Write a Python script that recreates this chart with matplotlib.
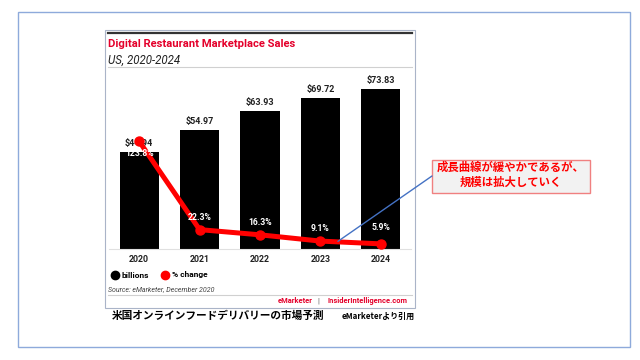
import matplotlib
matplotlib.use("Agg")
import matplotlib.pyplot as plt
from matplotlib.patches import Rectangle, ConnectionPatch
from matplotlib.lines import Line2D

years = ["2020", "2021", "2022", "2023", "2024"]
sales = [44.94, 54.97, 63.93, 69.72, 73.83]
sales_labels = ["$44.94", "$54.97", "$63.93", "$69.72", "$73.83"]
pct = [123.8, 22.3, 16.3, 9.1, 5.9]
pct_labels = ["123.8%", "22.3%", "16.3%", "9.1%", "5.9%"]

title = "Digital Restaurant Marketplace Sales"
subtitle = "US, 2020-2024"
source = "Source: eMarketer, December 2020"
caption = "米国オンラインフードデリバリーの市場予測"
credit = "eMarketerより引用"
note = "成長曲線が緩やかであるが、\n規模は拡大していく"

W, H = 640, 360
fig = plt.figure(figsize=(6.4, 3.6), dpi=100)
fig.patch.set_facecolor("white")

def fx(x):
    return x / W

def fy(y):
    return 1 - y / H

def hline(x0, x1, y, color, lw):
    fig.add_artist(Line2D([fx(x0), fx(x1)], [fy(y), fy(y)], transform=fig.transFigure,
                          color=color, lw=lw))

def rect(x0, y0, x1, y1, ec, lw, fc="none", z=1):
    fig.add_artist(Rectangle((fx(x0), fy(y1)), fx(x1) - fx(x0), fy(y0) - fy(y1),
                             transform=fig.transFigure, ec=ec, fc=fc, lw=lw, zorder=z))

RED = "#e4002b"
FONT = "Roboto"
JP = ["Noto Sans CJK JP", "DejaVu Sans"]

# outer frame and chart box
rect(18, 12, 630, 347, "#8eaadb", 1.0)
rect(105, 30, 415, 308, "#aab4c8", 0.8)
hline(108, 412, 33, "#333333", 1.6)
hline(108, 412, 67, "#d0d0d0", 0.8)
hline(108, 412, 295, "#d0d0d0", 0.8)

fig.text(fx(108), fy(44), title, color=RED, fontsize=8.1, fontweight="bold",
         family=FONT, va="center", ha="left")
fig.text(fx(108), fy(60), subtitle, color="#222222", fontsize=8.3, style="italic",
         family=FONT, va="center", ha="left")

# axes
ax = fig.add_axes([fx(109), 111 / H, (411 - 109) / W, 173 / H])
ax.set_xlim(-0.5, 4.5)
ax.set_ylim(0, 80)
x = list(range(len(years)))
ax.bar(x, sales, width=0.65, color="black", zorder=2)
for xi, v, lab in zip(x, sales, sales_labels):
    ax.annotate(lab, (xi, v), xytext=(0, 3), textcoords="offset points",
                ha="center", va="bottom", fontsize=6.5, fontweight="bold",
                family=FONT, color="#222222", zorder=5)
for s in ["top", "left", "right"]:
    ax.spines[s].set_visible(False)
ax.spines["bottom"].set_color("#e0e0e0")
ax.spines["bottom"].set_linewidth(0.8)
ax.set_yticks([])
ax.set_xticks(x)
ax.set_xticklabels(years, fontsize=6.3, fontweight="bold", family=FONT, color="#222222")
ax.tick_params(axis="x", length=0, pad=4)
ax.patch.set_alpha(0)

ax2 = ax.twinx()
ax2.set_ylim(0, 199)
ax2.set_yticks([])
for s in ["top", "left", "right", "bottom"]:
    ax2.spines[s].set_visible(False)
ax2.plot(x, pct, color="#ff0000", lw=3.6, marker="o", ms=6.5, zorder=4,
         solid_capstyle="round")
offs = [-9, 9, 9, 9, 12]
for xi, v, lab, o in zip(x, pct, pct_labels, offs):
    ax2.annotate(lab, (xi, v), xytext=(0, o), textcoords="offset points",
                 ha="center", va="center", fontsize=6.2, fontweight="bold",
                 family=FONT, color="white", zorder=6)

# legend
leg_handles = [Line2D([], [], ls="none", marker="o", color="black", ms=6),
               Line2D([], [], ls="none", marker="o", color="#ff0000", ms=6)]
fig.legend(leg_handles, ["billions", "% change"], loc="center left",
           bbox_to_anchor=(fx(102), fy(275)), ncol=2, frameon=False,
           prop={"family": FONT, "size": 6, "weight": "bold"},
           handletextpad=0.2, columnspacing=1.4, handlelength=1.2)

fig.text(fx(108), fy(289), source, fontsize=5, style="italic", family=FONT,
         color="#444444", va="center", ha="left")
fig.text(fx(313), fy(301), "eMarketer", fontsize=5.4, fontweight="bold", family=FONT,
         color=RED, va="center", ha="right")
fig.text(fx(318.5), fy(301), "|", fontsize=5.6, family=FONT, color="#666666",
         va="center", ha="center")
fig.text(fx(408), fy(301), "InsiderIntelligence.com", fontsize=5.4, fontweight="bold",
         family=FONT, color=RED, va="center", ha="right")

fig.text(fx(112), fy(316), caption, fontsize=7.7, fontweight="bold", family=JP,
         color="black", va="center", ha="left")
fig.text(fx(415), fy(316), credit, fontsize=5.8, fontweight="bold", family=JP,
         color="black", va="center", ha="right")

# annotation
rect(432, 160, 590, 193, "#f08080", 1.0, fc="#f2f2f2", z=3)
fig.text(fx(511), fy(175), note, fontsize=8.2, fontweight="bold", family=JP,
         color="#ff0000", va="center", ha="center", linespacing=1.25, zorder=4)
con = ConnectionPatch(xyA=(3.29, 8.8), coordsA=ax2.transData,
                      xyB=(fx(432), fy(176)), coordsB=fig.transFigure,
                      color="#4472c4", lw=1.0, zorder=7)
fig.add_artist(con)

fig.savefig("out.png", dpi=100)
